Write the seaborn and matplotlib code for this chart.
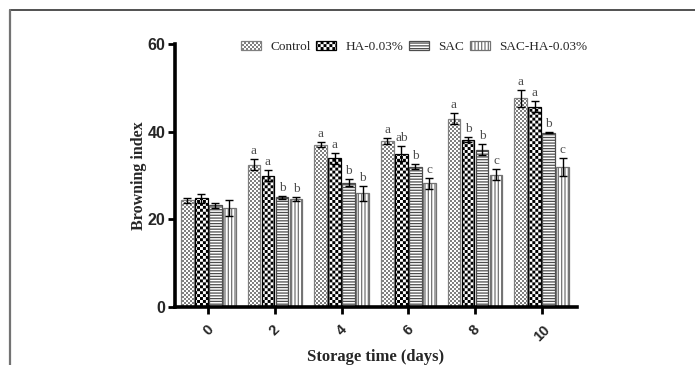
import numpy as np
import pandas as pd
import matplotlib
matplotlib.use("Agg")
import matplotlib.pyplot as plt
import matplotlib.hatch as mhatch
from matplotlib.path import Path
from matplotlib.lines import Line2D
import seaborn as sns

# ---------------- data ----------------
days = ["0", "2", "4", "6", "8", "10"]
series = ["Control", "HA-0.03%", "SAC", "SAC-HA-0.03%"]
control = [24.3, 32.5, 37.0, 37.9, 43.0, 47.6]
control_err = [0.6, 1.3, 0.6, 0.7, 1.3, 1.9]
ha = [24.8, 30.0, 33.9, 35.0, 38.2, 45.7]
ha_err = [1.0, 1.2, 1.2, 1.7, 0.5, 1.3]
sac = [23.2, 25.0, 28.3, 32.0, 35.9, 39.8]
sac_err = [0.6, 0.4, 0.8, 0.6, 1.2, 0.2]
sacha = [22.5, 24.6, 25.9, 28.2, 30.2, 31.9]
sacha_err = [1.8, 0.5, 1.8, 1.3, 1.2, 2.1]
letters_control = ["", "a", "a", "a", "a", "a"]
letters_ha = ["", "a", "a", "ab", "b", "a"]
letters_sac = ["", "b", "b", "b", "b", "b"]
letters_sacha = ["", "b", "b", "c", "c", "c"]

means = [control, ha, sac, sacha]
errs = [control_err, ha_err, sac_err, sacha_err]
letters = [letters_control, letters_ha, letters_sac, letters_sacha]

df = pd.DataFrame({
    "day": np.tile(days, len(series)),
    "group": np.repeat(series, len(days)),
    "value": np.concatenate(means),
})

# ---------------- custom checkerboard hatch (replaces '*') ----------------
# number of '*' characters = number of squares per hatch tile side
class Checker(mhatch.HatchPatternBase):
    def __init__(self, hatch, density):
        self.n = int(hatch.count("*"))
        self.num_shapes = (self.n * self.n + 1) // 2 if self.n else 0
        self.num_vertices = self.num_shapes * 5

    def set_vertices_and_codes(self, vertices, codes):
        s = 1.0 / self.n
        sq = np.array([[0, 0], [s, 0], [s, s], [0, s], [0, 0]])
        sqc = np.array([Path.MOVETO, Path.LINETO, Path.LINETO, Path.LINETO,
                        Path.CLOSEPOLY], dtype=Path.code_type)
        vparts, cparts = [], []
        for i in range(self.n):
            for j in range(self.n):
                if (i + j) % 2 == 0:
                    vparts.append(sq + [i * s, j * s])
                    cparts.append(sqc)
        vparts = vparts[: self.num_shapes]
        cparts = cparts[: self.num_shapes]
        np.concatenate(vparts, out=vertices)
        np.concatenate(cparts, out=codes)

mhatch._hatch_types[:] = [t for t in mhatch._hatch_types
                          if t is not mhatch.Stars] + [Checker]

# ---------------- style ----------------
sns.set_theme(style="ticks")
plt.rcParams["font.family"] = ["Liberation Serif", "DejaVu Serif"]
plt.rcParams["hatch.linewidth"] = 0.9

fig = plt.figure(figsize=(6.95, 3.65), dpi=100)
ax = fig.add_axes([0.2518, 0.1589, 0.5784, 0.7205])

sns.barplot(data=df, x="day", y="value", hue="group", order=days,
            hue_order=series, width=0.84, gap=0.1, legend=False,
            errorbar=None, ax=ax)

bar_containers = list(ax.containers)
hatches = ["*" * 50, "*" * 34, "------", "|||||"]
edges = ["0.5", "black", "0.3", "0.45"]
hatch_lw = [0.0, 0.0, 0.9, 0.9]


def style_patch(p, k):
    p.set_facecolor("white")
    p.set_edgecolor(edges[k])
    p.set_hatch(hatches[k])
    p.set_linewidth(0.9)
    try:
        p.set_hatch_linewidth(hatch_lw[k])
    except AttributeError:
        p._hatch_linewidth = hatch_lw[k]


for k, cont in enumerate(bar_containers):
    for p in cont.patches:
        style_patch(p, k)
    xs = [p.get_x() + p.get_width() / 2 for p in cont.patches]
    ax.errorbar(xs, means[k], yerr=errs[k], fmt="none", ecolor="black",
                elinewidth=1.0, capsize=3, capthick=1.0, zorder=5)
    for x, m, e, t in zip(xs, means[k], errs[k], letters[k]):
        if t:
            ax.annotate(t, (x, m + e), xytext=(0, 1.5),
                        textcoords="offset points", ha="center",
                        va="bottom", fontsize=9.5, color="0.3")

ax.set_ylim(0, 60)
ax.set_xlim(-0.5, 5.53)
ax.set_yticks([0, 20, 40, 60])
for side in ["left", "bottom"]:
    ax.spines[side].set_linewidth(2.6)
    ax.spines[side].set_color("black")
sns.despine(ax=ax)
ax.tick_params(axis="both", which="major", length=5, width=2,
               color="black", direction="out", pad=2)
for lab in ax.get_yticklabels():
    lab.set_fontfamily("Liberation Sans")
    lab.set_fontweight("bold")
    lab.set_fontsize(11.5)
ax.set_xticks(range(len(days)))
ax.set_xticklabels(days, rotation=45, ha="center",
                   fontfamily="Liberation Sans", fontweight="bold",
                   fontsize=10.5)
ax.tick_params(axis="x", pad=6)
ax.set_xlabel("Storage time (days)", fontsize=12, fontweight="bold",
              labelpad=4)
ax.set_ylabel("Browning index", fontsize=11.5, fontweight="bold",
              labelpad=0)

handles = [c.patches[0] for c in bar_containers]
leg = fig.legend(handles, series, loc="center", bbox_to_anchor=(0.596, 0.872),
                 ncol=4, frameon=False, fontsize=9.5, handlelength=1.5,
                 handleheight=0.65, handletextpad=0.7, columnspacing=0.45,
                 borderaxespad=0)
for k, h in enumerate(leg.legend_handles):
    style_patch(h, k)

# page border (top and left edges of the cropped frame)
fig.add_artist(Line2D([9.5 / 695, 1.0], [1 - 9.5 / 365, 1 - 9.5 / 365],
                      transform=fig.transFigure, color="0.2", lw=1.2))
fig.add_artist(Line2D([9.5 / 695, 9.5 / 695], [0.0, 1 - 9.5 / 365],
                      transform=fig.transFigure, color="0.45", lw=1.6))

fig.savefig("out.png", dpi=100)
